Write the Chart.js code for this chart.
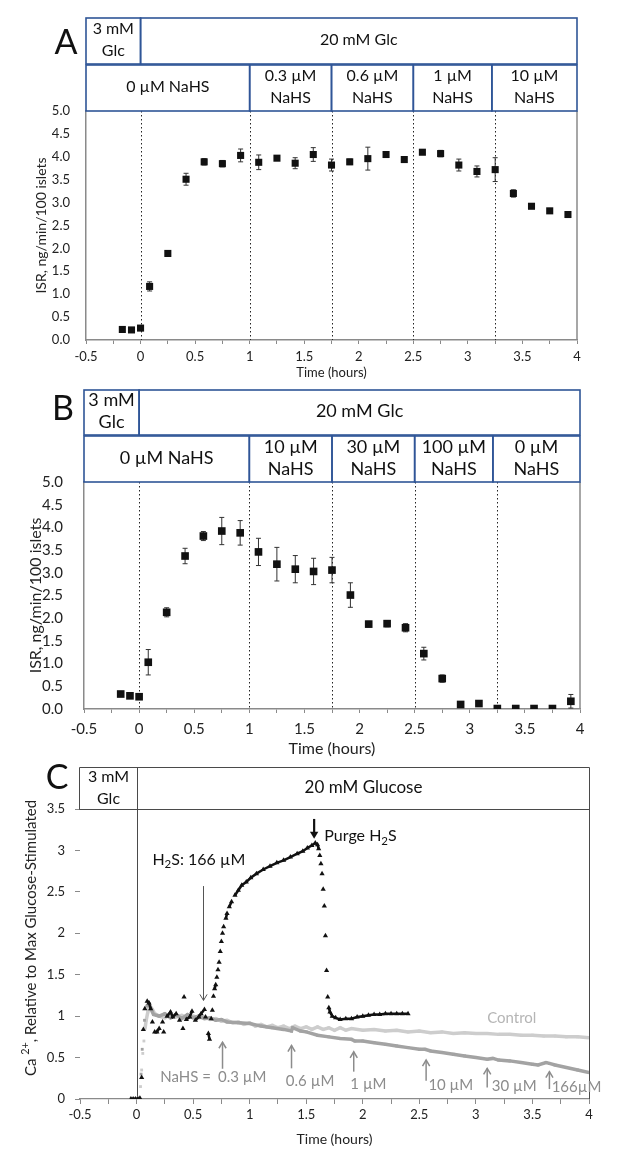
<!DOCTYPE html>
<html>
<head>
<meta charset="utf-8">
<script src="https://cdn.jsdelivr.net/npm/chart.js@4.4.1/dist/chart.umd.min.js"></script>
<style>
html, body { margin: 0; padding: 0; background: #fff; }
#wrap { position: relative; width: 617px; height: 1156px; }
.pane { position: absolute; left: 0; width: 617px; }
</style>
</head>
<body>
<div id="wrap">
  <div class="pane" style="top:0;height:380px"><canvas id="chartA"></canvas></div>
  <div class="pane" style="top:380px;height:378px"><canvas id="chartB"></canvas></div>
  <div class="pane" style="top:758px;height:398px"><canvas id="chartC"></canvas></div>
</div>
<script>
var FONT = 'Lato, "DejaVu Sans", sans-serif';

// panels A and B: insulin secretion rate, one fraction every 10 min
var times = [-0.167, -0.083, 0, 0.083, 0.25, 0.417, 0.583, 0.75, 0.917, 1.083, 1.25, 1.417, 1.583, 1.75, 1.917,
             2.083, 2.25, 2.417, 2.583, 2.75, 2.917, 3.083, 3.25, 3.417, 3.583, 3.75, 3.917];
var isrA = [0.23, 0.22, 0.26, 1.17, 1.89, 3.51, 3.89, 3.85, 4.03, 3.88, 3.97, 3.86, 4.05, 3.82, 3.89,
            3.96, 4.05, 3.94, 4.10, 4.07, 3.82, 3.68, 3.72, 3.20, 2.92, 2.82, 2.74];
var errA = [0, 0, 0, 0.10, 0.03, 0.13, 0.07, 0.07, 0.14, 0.16, 0.05, 0.12, 0.15, 0.13, 0.06,
            0.25, 0.03, 0.06, 0.05, 0.07, 0.13, 0.12, 0.26, 0.08, 0.04, 0.02, 0.02];
var isrB = [0.33, 0.29, 0.27, 1.03, 2.13, 3.37, 3.81, 3.92, 3.88, 3.46, 3.19, 3.08, 3.03, 3.06, 2.51,
            1.87, 1.88, 1.79, 1.22, 0.67, 0.10, 0.12, 0.01, 0.01, 0.01, 0.01, 0.17];
var errB = [0.02, 0.02, 0.02, 0.28, 0.10, 0.17, 0.10, 0.30, 0.27, 0.30, 0.37, 0.30, 0.29, 0.28, 0.27,
            0.06, 0.07, 0.09, 0.14, 0.08, 0.05, 0.03, 0, 0, 0, 0, 0.15];
var switchTimes = [0, 1, 1.75, 2.5, 3.25];
var glcEdges = [-0.5, 0, 4];
var glcLabels = [['3 mM', 'Glc'], ['20 mM Glc']];
var nahsEdgesA = [-0.5, 1, 1.75, 2.5, 3.22, 4];
var nahsLabelsA = [['0 µM NaHS'], ['0.3 µM', 'NaHS'], ['0.6 µM', 'NaHS'], ['1 µM', 'NaHS'], ['10 µM', 'NaHS']];
var nahsEdgesB = [-0.5, 1, 1.75, 2.5, 3.21, 4];
var nahsLabelsB = [['0 µM NaHS'], ['10 µM', 'NaHS'], ['30 µM', 'NaHS'], ['100 µM', 'NaHS'], ['0 µM', 'NaHS']];

// panel C: Ca2+ traces
var h2sT = [-0.05, -0.03, -0.01, 0.01, 0.03, 0.045, 0.06, 0.073, 0.094, 0.11, 0.125, 0.14, 0.16, 0.18, 0.20,
            0.23, 0.24, 0.27, 0.30, 0.32, 0.35, 0.38, 0.41, 0.42, 0.44, 0.47, 0.49, 0.52, 0.55, 0.57,
            0.60, 0.61, 0.635, 0.645, 0.66, 0.67, 0.68, 0.69, 0.70, 0.71, 0.72, 0.73, 0.74, 0.75, 0.76,
            0.77, 0.79, 0.80, 0.82, 0.84, 0.87, 0.90, 0.93, 0.97, 1.01, 1.06, 1.12, 1.18, 1.24, 1.30,
            1.36, 1.42, 1.47, 1.51, 1.55, 1.58, 1.60, 1.61, 1.62, 1.63, 1.64, 1.65, 1.66, 1.67, 1.68,
            1.69, 1.70, 1.71, 1.73, 1.76, 1.80, 1.85, 1.90, 1.95, 2.00, 2.05, 2.10, 2.15, 2.20, 2.25,
            2.30, 2.35, 2.40];
var h2sCa = [0, 0, 0, 0, 0.01, 0.26, 0.84, 1.09, 1.18, 1.16, 1.09, 0.93, 0.81, 0.81, 0.85,
             0.93, 0.81, 1.00, 1.05, 0.99, 1.03, 0.95, 0.85, 1.23, 0.96, 0.99, 1.06, 0.95, 0.99, 1.03,
             1.08, 0.99, 0.79, 0.72, 0.97, 1.07, 1.24, 1.33, 1.38, 1.47, 1.56, 1.65, 1.78, 1.90, 2.00,
             2.08, 2.18, 2.24, 2.32, 2.38, 2.46, 2.52, 2.58, 2.62, 2.67, 2.72, 2.77, 2.81, 2.85, 2.88,
             2.92, 2.96, 2.99, 3.03, 3.06, 3.09, 3.07, 3.02, 2.94, 2.84, 2.72, 2.53, 2.33, 1.97, 1.55,
             1.23, 1.10, 1.05, 1.00, 0.98, 0.96, 0.97, 0.97, 0.99, 1.00, 1.01, 1.02, 1.02, 1.03, 1.03,
             1.03, 1.03, 1.03];
var ctrlT = [-0.05, 0, 0.02, 0.035, 0.045, 0.055, 0.065, 0.075, 0.085, 0.1, 0.11, 0.12, 0.14, 0.16, 0.2,
             0.25, 0.3, 0.35, 0.4, 0.45, 0.5, 0.55, 0.6, 0.65, 0.7, 0.75, 0.8, 0.85, 0.9, 0.95, 1.0, 1.05,
             1.1, 1.15, 1.2, 1.25, 1.3, 1.35, 1.4, 1.45, 1.5, 1.55, 1.6, 1.65, 1.7, 1.75, 1.8, 1.85, 1.9,
             2.0, 2.1, 2.2, 2.3, 2.4, 2.5, 2.6, 2.7, 2.8, 2.9, 3.0, 3.1, 3.2, 3.3, 3.4, 3.5, 3.6, 3.7, 3.8, 3.9, 4.0];
var ctrlCa = [0, 0, 0.02, 0.15, 0.35, 0.55, 0.7, 0.85, 0.95, 1.05, 1.1, 1.12, 1.08, 1.03, 1.0,
              0.98, 1.02, 0.99, 1.01, 0.98, 1.0, 0.98, 0.99, 0.96, 0.97, 0.94, 0.95, 0.92, 0.93, 0.9, 0.92, 0.88,
              0.9, 0.87, 0.89, 0.86, 0.88, 0.85, 0.88, 0.85, 0.87, 0.84, 0.87, 0.84, 0.86, 0.83, 0.86, 0.83, 0.85,
              0.83, 0.84, 0.82, 0.83, 0.81, 0.82, 0.8, 0.81, 0.79, 0.8, 0.79, 0.79, 0.78, 0.78, 0.77, 0.77, 0.76, 0.76, 0.75, 0.75, 0.74];
var rampT = [-0.05, 0, 0.02, 0.04, 0.05, 0.07, 0.09, 0.11, 0.13, 0.15, 0.2, 0.25, 0.3, 0.35, 0.4,
             0.45, 0.5, 0.55, 0.6, 0.65, 0.7, 0.75, 0.8, 0.9, 1.0, 1.1, 1.2, 1.3, 1.37, 1.38,
             1.45, 1.5, 1.6, 1.7, 1.8, 1.9, 1.93, 2.0, 2.1, 2.2, 2.3, 2.4, 2.5, 2.55, 2.6,
             2.7, 2.8, 2.9, 3.0, 3.1, 3.15, 3.2, 3.3, 3.4, 3.5, 3.55, 3.62, 3.65, 3.7, 3.8, 3.9, 4.0];
var rampCa = [0, 0, 0.01, 0.3, 0.6, 0.95, 1.12, 1.15, 1.08, 1.02, 1.0, 1.03, 0.98, 1.02, 0.97,
              1.02, 0.98, 1.0, 0.97, 0.98, 0.95, 0.96, 0.93, 0.92, 0.91, 0.88, 0.86, 0.84, 0.82, 0.86,
              0.82, 0.81, 0.77, 0.75, 0.73, 0.72, 0.7, 0.7, 0.68, 0.66, 0.64, 0.62, 0.6, 0.6, 0.58,
              0.56, 0.54, 0.52, 0.5, 0.48, 0.49, 0.47, 0.46, 0.44, 0.42, 0.41, 0.44, 0.43, 0.41, 0.38, 0.35, 0.32];
var doseT = [0.76, 1.37, 1.92, 2.56, 3.10, 3.65];
var doseLabels = ['0.3 µM', '0.6 µM', '1 µM', '10 µM', '30 µM', '166µM'];
var h2sAddT = 0.59, purgeT = 1.57;
var glcLabelsC = [['3 mM', 'Glc'], ['20 mM Glucose']];

Chart.defaults.font.family = FONT;
Chart.defaults.color = '#222';

function zip(xs, ys) {
    return xs.map(function (x, i) { return { x: x, y: ys[i] }; });
}
function halfLabel(v) {
    return Math.abs(v * 2 - Math.round(v * 2)) < 1e-6 ? String(v) : '';
}
function drawRuns(ctx, runs, x, y, size, align) {
    var w = 0;
    runs.forEach(function (r) {
        ctx.font = (r.sub || r.sup ? size * 0.72 : size) + 'px ' + FONT;
        r.w = ctx.measureText(r.t).width;
        w += r.w;
    });
    var cx = align === 'center' ? x - w / 2 : x;
    ctx.textAlign = 'left';
    ctx.textBaseline = 'middle';
    runs.forEach(function (r) {
        ctx.font = (r.sub || r.sup ? size * 0.72 : size) + 'px ' + FONT;
        var dy = r.sub ? size * 0.3 : (r.sup ? -size * 0.38 : 0);
        ctx.fillText(r.t, cx, y + dy);
        cx += r.w;
    });
}
function arrow(ctx, x, yFrom, yTo, head, filled) {
    var dir = yTo > yFrom ? 1 : -1;
    ctx.beginPath();
    ctx.moveTo(x, yFrom);
    ctx.lineTo(x, filled ? yTo - dir * head * 0.8 : yTo);
    ctx.stroke();
    ctx.beginPath();
    ctx.moveTo(x - head * 0.6, yTo - dir * head);
    ctx.lineTo(x, yTo);
    ctx.lineTo(x + head * 0.6, yTo - dir * head);
    if (filled) { ctx.closePath(); ctx.fill(); } else { ctx.stroke(); }
}
function headerRow(ctx, xs, row, color, width, size) {
    ctx.strokeStyle = color;
    ctx.lineWidth = width;
    ctx.fillStyle = '#111';
    ctx.font = size + 'px ' + FONT;
    ctx.textAlign = 'center';
    ctx.textBaseline = 'middle';
    for (var i = 0; i < row.labels.length; i++) {
        var x0 = xs.getPixelForValue(row.edges[i]), x1 = xs.getPixelForValue(row.edges[i + 1]);
        ctx.strokeRect(x0, row.top, x1 - x0, row.bottom - row.top);
        var lines = row.labels[i], mid = (row.top + row.bottom) / 2 - 1;
        lines.forEach(function (t, k) {
            ctx.fillText(t, (x0 + x1) / 2, mid + (k - (lines.length - 1) / 2) * row.gap);
        });
    }
}

function makeISR(id, values, errs, o) {
    var deco = {
        id: 'deco' + id,
        beforeDatasetsDraw: function (chart) {
            var ctx = chart.ctx, a = chart.chartArea, xs = chart.scales.x, ys = chart.scales.y;
            ctx.save();
            ctx.strokeStyle = '#222';
            ctx.lineWidth = 1;
            ctx.setLineDash([1.5, 2.5]);
            switchTimes.forEach(function (t) {
                var x = Math.round(xs.getPixelForValue(t)) + 0.5;
                ctx.beginPath(); ctx.moveTo(x, a.top); ctx.lineTo(x, a.bottom); ctx.stroke();
            });
            ctx.setLineDash([]);
            ctx.strokeStyle = '#8a8a8a';
            ctx.lineWidth = 1.5;
            ctx.beginPath(); ctx.moveTo(a.right, a.top); ctx.lineTo(a.right, a.bottom); ctx.stroke();
            // error bars
            ctx.strokeStyle = '#333';
            ctx.lineWidth = 1;
            times.forEach(function (t, i) {
                if (!errs[i]) return;
                var x = xs.getPixelForValue(t);
                var y1 = ys.getPixelForValue(values[i] + errs[i]);
                var y2 = ys.getPixelForValue(Math.max(0, values[i] - errs[i]));
                ctx.beginPath();
                ctx.moveTo(x, y1); ctx.lineTo(x, y2);
                ctx.moveTo(x - 2.5, y1); ctx.lineTo(x + 2.5, y1);
                ctx.moveTo(x - 2.5, y2); ctx.lineTo(x + 2.5, y2);
                ctx.stroke();
            });
            ctx.restore();
        },
        afterDraw: function (chart) {
            var ctx = chart.ctx, xs = chart.scales.x;
            ctx.save();
            o.rows.forEach(function (row) { headerRow(ctx, xs, row, '#2f5597', 1.6, o.headSize); });
            ctx.fillStyle = '#111';
            ctx.font = '34px ' + FONT;
            ctx.textAlign = 'center';
            ctx.textBaseline = 'middle';
            ctx.fillText(o.letter, o.letterX, o.letterY);
            ctx.restore();
        }
    };
    return new Chart(document.getElementById(id), {
        type: 'scatter',
        data: {
            datasets: [{
                data: zip(times, values),
                pointStyle: 'rect',
                pointRadius: o.mark,
                pointBorderWidth: 0,
                backgroundColor: '#111',
                borderColor: '#111'
            }]
        },
        options: {
            responsive: true,
            maintainAspectRatio: false,
            animation: false,
            layout: { padding: { top: o.top, right: o.right, left: 0, bottom: 0 } },
            plugins: { legend: { display: false }, tooltip: { enabled: false } },
            scales: {
                x: {
                    type: 'linear', min: -0.5, max: 4,
                    afterFit: function (s) { s.height = o.xHeight; },
                    grid: { display: true, drawOnChartArea: false, tickLength: 4, color: '#8a8a8a' },
                    border: { color: '#8a8a8a', width: 1.5 },
                    ticks: { stepSize: 0.25, autoSkip: false, maxRotation: 0, padding: o.xPad, color: '#222',
                             font: { size: o.tick }, callback: halfLabel },
                    title: { display: true, text: 'Time (hours)', color: '#222',
                             font: { size: o.xTitle, lineHeight: 1 }, padding: { top: 0, bottom: o.xTitlePad } }
                },
                y: {
                    min: 0, max: 5,
                    afterFit: function (s) { s.width = o.yWidth; },
                    grid: { display: false },
                    border: { color: '#8a8a8a', width: 1.5 },
                    ticks: { stepSize: 0.5, padding: o.yPad, color: '#222', font: { size: o.tick },
                             callback: function (v) { return v.toFixed(1); } },
                    title: { display: true, text: 'ISR, ng/min/100 islets', color: '#222',
                             font: { size: o.yTitle, lineHeight: 1 }, padding: { top: o.yTitlePad, bottom: 0 } }
                }
            }
        },
        plugins: [deco]
    });
}

makeISR('chartA', isrA, errA, {
    top: 111, right: 40, xHeight: 40, yWidth: 86, tick: 13, xPad: 5, yPad: 8,
    xTitle: 13, xTitlePad: 0.5, yTitle: 14, yTitlePad: 34, mark: 5, headSize: 16,
    letter: 'A', letterX: 66, letterY: 43,
    rows: [
        { top: 18, bottom: 64, gap: 22, edges: glcEdges, labels: glcLabels },
        { top: 65, bottom: 111, gap: 22, edges: nahsEdgesA, labels: nahsLabelsA }
    ]
});
makeISR('chartB', isrB, errB, {
    top: 102, right: 37, xHeight: 49, yWidth: 84, tick: 15, xPad: 7, yPad: 13,
    xTitle: 16, xTitlePad: 1, yTitle: 16, yTitlePad: 28, mark: 5.4, headSize: 18,
    letter: 'B', letterX: 63, letterY: 29,
    rows: [
        { top: 10, bottom: 55, gap: 22, edges: glcEdges, labels: glcLabels },
        { top: 56, bottom: 102, gap: 22, edges: nahsEdgesB, labels: nahsLabelsB }
    ]
});

// black trace: join only the densely sampled stretches
function dotGap(c) {
    var dx = c.p1.x - c.p0.x, dy = Math.abs(c.p1.y - c.p0.y);
    return dx < 7.5 && dy < 6 ? undefined : 'rgba(0,0,0,0)';
}
// grey traces: break only on the steep initial rise
function riseGap(c) {
    return Math.abs(c.p1.y - c.p0.y) < 9 ? undefined : 'rgba(0,0,0,0)';
}

var decoC = {
    id: 'decoC',
    beforeDatasetsDraw: function (chart) {
        var ctx = chart.ctx, a = chart.chartArea, xs = chart.scales.x;
        var hTop = 9.5;
        var xl = Math.round(xs.getPixelForValue(glcEdges[0])) - 0.5;
        var x0 = Math.round(xs.getPixelForValue(glcEdges[1])) + 0.5;
        var xr = Math.round(xs.getPixelForValue(glcEdges[2])) + 0.5;
        var yt = Math.round(a.top) + 0.5;
        ctx.save();
        ctx.strokeStyle = '#4a4a4a';
        ctx.lineWidth = 1;
        ctx.beginPath();
        ctx.moveTo(xl, hTop); ctx.lineTo(xr, hTop);
        ctx.moveTo(xl, yt); ctx.lineTo(xr, yt);
        ctx.moveTo(xl, hTop); ctx.lineTo(xl, yt);
        ctx.moveTo(x0, hTop); ctx.lineTo(x0, a.bottom);
        ctx.moveTo(xr, hTop); ctx.lineTo(xr, a.bottom);
        ctx.stroke();
        ctx.fillStyle = '#111';
        ctx.textAlign = 'center';
        ctx.textBaseline = 'middle';
        ctx.font = '16px ' + FONT;
        ctx.fillText(glcLabelsC[0][0], (xl + x0) / 2, 19);
        ctx.fillText(glcLabelsC[0][1], (xl + x0) / 2, 41);
        ctx.font = '17px ' + FONT;
        ctx.fillText(glcLabelsC[1][0], (x0 + xr) / 2, 30);
        ctx.font = '34px ' + FONT;
        ctx.fillText('C', 57, 20);
        // y axis title with superscript
        ctx.translate(31, 180);
        ctx.rotate(-Math.PI / 2);
        ctx.fillStyle = '#222';
        drawRuns(ctx, [{ t: 'Ca ' }, { t: '2+', sup: true }, { t: ', Relative to Max Glucose-Stimulated' }], 0, 0, 15, 'center');
        ctx.restore();
    },
    afterDatasetsDraw: function (chart) {
        var ctx = chart.ctx, xs = chart.scales.x, ys = chart.scales.y;
        var arrowLo = [0.365, 0.37, 0.33, 0.22, 0.14, 0.12];
        var arrowHi = [0.685, 0.645, 0.57, 0.47, 0.37, 0.33];
        var labDx = [-0.04, -0.05, -0.03, 0.02, 0.04, 0.02];
        var labY = [0.26, 0.22, 0.18, 0.17, 0.16, 0.145];
        ctx.save();
        ctx.strokeStyle = '#8c8c8c';
        ctx.lineWidth = 1.5;
        ctx.fillStyle = '#8c8c8c';
        doseT.forEach(function (t, i) {
            var x = xs.getPixelForValue(t);
            arrow(ctx, x, ys.getPixelForValue(arrowLo[i]), ys.getPixelForValue(arrowHi[i]), 6, false);
        });
        ctx.font = '15px ' + FONT;
        ctx.textAlign = 'left';
        ctx.textBaseline = 'middle';
        ctx.fillText('NaHS =', xs.getPixelForValue(0.21), ys.getPixelForValue(0.26));
        doseT.forEach(function (t, i) {
            ctx.fillText(doseLabels[i], xs.getPixelForValue(t + labDx[i]), ys.getPixelForValue(labY[i]));
        });
        ctx.fillStyle = '#b5b5b5';
        ctx.fillText('Control', xs.getPixelForValue(3.1), ys.getPixelForValue(0.97));
        // H2S addition and purge
        ctx.strokeStyle = '#555';
        ctx.lineWidth = 1;
        arrow(ctx, Math.round(xs.getPixelForValue(h2sAddT)) + 0.5, ys.getPixelForValue(2.57), ys.getPixelForValue(1.19), 6, false);
        ctx.strokeStyle = '#111';
        ctx.fillStyle = '#111';
        ctx.lineWidth = 2.2;
        arrow(ctx, xs.getPixelForValue(purgeT), ys.getPixelForValue(3.38), ys.getPixelForValue(3.14), 7, true);
        drawRuns(ctx, [{ t: 'H' }, { t: '2', sub: true }, { t: 'S: 166 µM' }], xs.getPixelForValue(0.14), ys.getPixelForValue(2.89), 16, 'left');
        drawRuns(ctx, [{ t: 'Purge H' }, { t: '2', sub: true }, { t: 'S' }], xs.getPixelForValue(1.66), ys.getPixelForValue(3.17), 16, 'left');
        ctx.restore();
    }
};

new Chart(document.getElementById('chartC'), {
    type: 'line',
    data: {
        datasets: [
            { data: zip(h2sT, h2sCa), borderColor: '#111', backgroundColor: '#111', borderWidth: 2.5,
              pointStyle: 'triangle', pointRadius: 3, pointBorderWidth: 0, tension: 0,
              segment: { borderColor: dotGap } },
            { data: zip(rampT, rampCa), borderColor: '#a3a3a3', backgroundColor: '#a3a3a3', borderWidth: 3.5,
              pointStyle: 'rect', pointRadius: 2, pointBorderWidth: 0, tension: 0,
              segment: { borderColor: riseGap } },
            { data: zip(ctrlT, ctrlCa), borderColor: '#cdcdcd', backgroundColor: '#cdcdcd', borderWidth: 3.5,
              pointStyle: 'rect', pointRadius: 2, pointBorderWidth: 0, tension: 0,
              segment: { borderColor: riseGap } }
        ]
    },
    options: {
        responsive: true,
        maintainAspectRatio: false,
        animation: false,
        layout: { padding: { top: 51, right: 28, left: 0, bottom: 0 } },
        plugins: { legend: { display: false }, tooltip: { enabled: false } },
        scales: {
            x: {
                type: 'linear', min: -0.5, max: 4,
                afterFit: function (s) { s.height = 57; },
                grid: { display: true, drawOnChartArea: false, tickLength: 5, color: '#8a8a8a' },
                border: { color: '#8a8a8a', width: 1.2 },
                ticks: { stepSize: 0.25, autoSkip: false, maxRotation: 0, padding: 3, color: '#222',
                         font: { size: 13 }, callback: halfLabel },
                title: { display: true, text: 'Time (hours)', color: '#222',
                         font: { size: 14, lineHeight: 1 }, padding: { top: 0, bottom: 10 } }
            },
            y: {
                type: 'linear', min: 0, max: 3.5,
                afterFit: function (s) { s.width = 80; },
                grid: { display: true, drawOnChartArea: false, tickLength: 5, color: '#8a8a8a' },
                border: { display: false },
                ticks: { stepSize: 0.5, padding: 10, color: '#222', font: { size: 13 },
                         callback: function (v) { return String(v); } }
            }
        }
    },
    plugins: [decoC]
});
</script>
</body>
</html>
